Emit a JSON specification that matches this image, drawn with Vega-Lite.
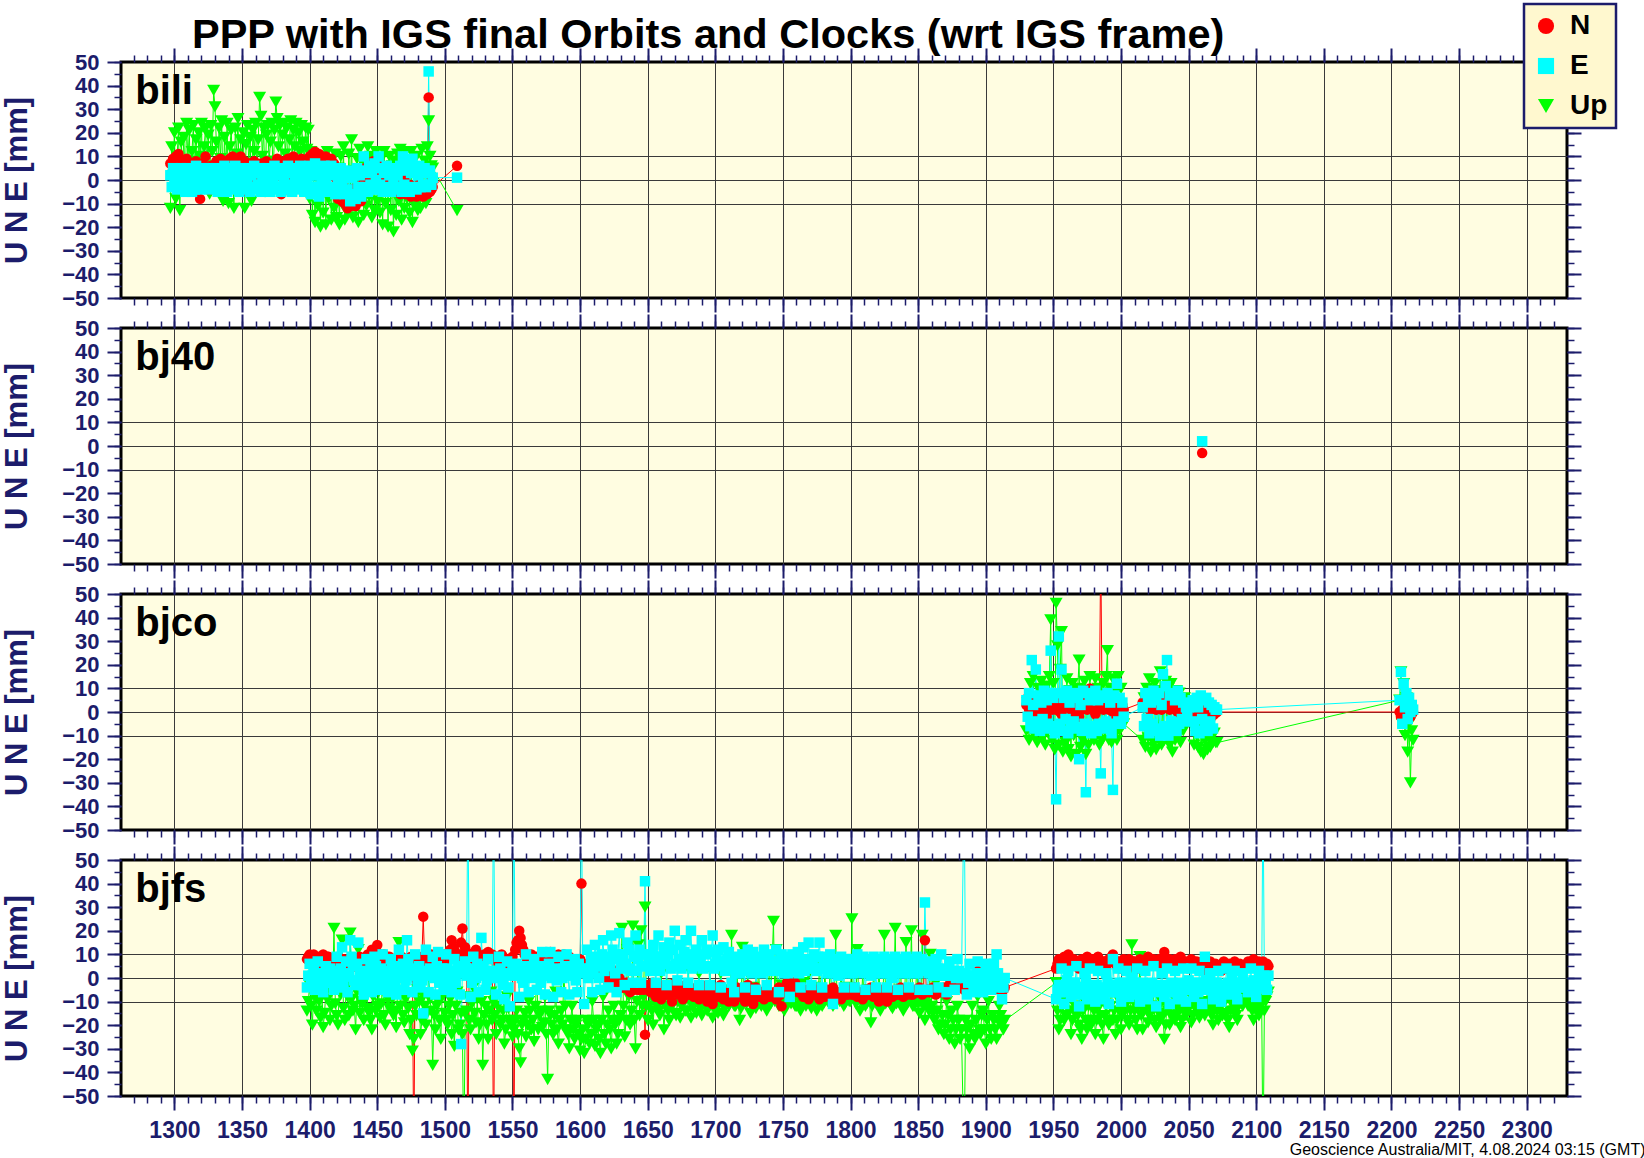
{
  "$schema": "https://vega.github.io/schema/vega-lite/v6.json",
  "padding": {"left": 0, "top": 2, "right": 0, "bottom": 0},
  "background": "white",
  "spacing": 30,
  "bounds": "flush",
  "resolve": {"scale": {"x": "independent", "y": "independent", "color": "shared", "shape": "shared", "stroke": "shared"}, "legend": {"color": "shared", "shape": "shared"}},
  "config": {
    "view": {"fill": "#fffde1", "stroke": "black", "strokeWidth": 3},
    "font": "Liberation Sans",
    "axis": {"domain": false, "tickColor": "#1c1c6b", "labelColor": "#1c1c6b", "labelFont": "Liberation Sans", "labelFontWeight": "bold", "labelOverlap": false, "labelFlush": false, "gridColor": "#3a3a3a", "gridWidth": 1},
    "legend": {"orient": "none", "legendX": 1403, "legendY": -58, "title": null, "fillColor": "#fff8cf", "strokeColor": "#1c1c6b", "strokeWidth": 2.5, "padding": 8, "labelFontSize": 28, "labelFont": "Liberation Sans", "labelFontWeight": "bold", "labelColor": "black", "symbolSize": 260, "symbolStrokeWidth": 0, "rowPadding": 12, "labelOffset": 10}
  },
  "datasets": {
    "bili": [
      {"t":1297,"N":7,"E":2,"Up":-12},{"t":1298,"N":3,"E":-3,"Up":14},{"t":1299,"N":9,"E":5,"Up":4},{"t":1300,"N":5,"E":-1,"Up":20},{"t":1301,"N":10,"E":4,"Up":-8},{"t":1302,"N":2,"E":-4,"Up":10},{"t":1303,"N":11,"E":1,"Up":22},{"t":1304,"N":6,"E":-3,"Up":-13},{"t":1305,"N":8,"E":5,"Up":16},{"t":1306,"N":0,"E":-2,"Up":5},
      {"t":1307,"N":6,"E":3,"Up":18},{"t":1308,"N":-3,"E":-5,"Up":-2},{"t":1309,"N":9,"E":5,"Up":24},{"t":1310,"N":3,"E":0,"Up":8},{"t":1311,"N":4,"E":-3,"Up":21},{"t":1312,"N":7,"E":4,"Up":-4},{"t":1313,"N":1,"E":-5,"Up":12},{"t":1314,"N":6,"E":2,"Up":23},{"t":1315,"N":2,"E":-4,"Up":3},{"t":1316,"N":8,"E":6,"Up":17},
      {"t":1317,"N":5,"E":-1,"Up":-5},{"t":1318,"N":-2,"E":4,"Up":20},{"t":1319,"N":-8,"E":-4,"Up":10},{"t":1320,"N":4,"E":2,"Up":24},{"t":1321,"N":7,"E":-2,"Up":-3},{"t":1322,"N":2,"E":5,"Up":14},{"t":1323,"N":10,"E":-3,"Up":22},{"t":1324,"N":4,"E":1,"Up":6},{"t":1325,"N":3,"E":5,"Up":19},{"t":1326,"N":-4,"E":-4,"Up":-6},
      {"t":1327,"N":6,"E":3,"Up":23},{"t":1328,"N":1,"E":-1,"Up":12},{"t":1329,"N":6,"E":4,"Up":38},{"t":1330,"N":2,"E":-3,"Up":31},{"t":1331,"N":8,"E":5,"Up":16},{"t":1332,"N":-3,"E":-5,"Up":2},{"t":1333,"N":5,"E":2,"Up":22},{"t":1334,"N":9,"E":-2,"Up":9},{"t":1335,"N":-2,"E":4,"Up":25},{"t":1336,"N":3,"E":-4,"Up":-9},
      {"t":1337,"N":8,"E":6,"Up":18},{"t":1338,"N":2,"E":0,"Up":4},{"t":1339,"N":4,"E":-5,"Up":24},{"t":1340,"N":7,"E":3,"Up":-10},{"t":1341,"N":9,"E":-2,"Up":14},{"t":1342,"N":1,"E":5,"Up":21},{"t":1343,"N":10,"E":-4,"Up":6},{"t":1344,"N":5,"E":2,"Up":-12},{"t":1345,"N":7,"E":6,"Up":22},{"t":1346,"N":3,"E":-3,"Up":11},
      {"t":1347,"N":9,"E":1,"Up":26},{"t":1348,"N":-1,"E":-5,"Up":-4},{"t":1349,"N":10,"E":5,"Up":17},{"t":1350,"N":6,"E":-2,"Up":3},{"t":1351,"N":5,"E":3,"Up":20},{"t":1352,"N":8,"E":-4,"Up":-12},{"t":1353,"N":2,"E":4,"Up":15},{"t":1354,"N":-5,"E":-1,"Up":23},{"t":1355,"N":4,"E":5,"Up":7},{"t":1356,"N":7,"E":-5,"Up":18},
      {"t":1357,"N":3,"E":2,"Up":-9},{"t":1358,"N":6,"E":-3,"Up":21},{"t":1359,"N":8,"E":6,"Up":12},{"t":1360,"N":1,"E":-4,"Up":24},{"t":1361,"N":6,"E":3,"Up":2},{"t":1362,"N":4,"E":-2,"Up":17},{"t":1363,"N":1,"E":5,"Up":35},{"t":1364,"N":7,"E":-5,"Up":27},{"t":1365,"N":5,"E":1,"Up":10},{"t":1366,"N":-2,"E":4,"Up":22},
      {"t":1367,"N":3,"E":-3,"Up":-5},{"t":1368,"N":8,"E":5,"Up":19},{"t":1369,"N":4,"E":-1,"Up":23},{"t":1370,"N":0,"E":3,"Up":8},{"t":1371,"N":2,"E":-5,"Up":16},{"t":1372,"N":6,"E":4,"Up":24},{"t":1373,"N":3,"E":-2,"Up":1},{"t":1374,"N":7,"E":6,"Up":21},{"t":1375,"N":3,"E":-4,"Up":33},{"t":1376,"N":9,"E":2,"Up":26},
      {"t":1377,"N":7,"E":-3,"Up":14},{"t":1378,"N":2,"E":5,"Up":23},{"t":1379,"N":-6,"E":-5,"Up":6},{"t":1380,"N":5,"E":3,"Up":19},{"t":1381,"N":8,"E":-1,"Up":24},{"t":1382,"N":1,"E":4,"Up":11},{"t":1383,"N":5,"E":-4,"Up":22},{"t":1384,"N":9,"E":6,"Up":3},{"t":1385,"N":4,"E":-2,"Up":17},{"t":1386,"N":7,"E":3,"Up":25},
      {"t":1387,"N":4,"E":-5,"Up":9},{"t":1388,"N":10,"E":5,"Up":21},{"t":1389,"N":6,"E":0,"Up":14},{"t":1390,"N":3,"E":-3,"Up":24},{"t":1391,"N":8,"E":4,"Up":5},{"t":1392,"N":6,"E":-4,"Up":20},{"t":1393,"N":2,"E":6,"Up":12},{"t":1394,"N":9,"E":-1,"Up":23},{"t":1395,"N":5,"E":3,"Up":16},{"t":1396,"N":7,"E":-5,"Up":8},
      {"t":1397,"N":4,"E":5,"Up":22},{"t":1398,"N":8,"E":-2,"Up":13},{"t":1399,"N":6,"E":2,"Up":21},
      {"t":1400,"N":10,"E":6,"Up":-8},{"t":1401,"N":4,"E":-6,"Up":12},{"t":1402,"N":11,"E":2,"Up":-15},{"t":1403,"N":7,"E":-3,"Up":4},{"t":1404,"N":12,"E":7,"Up":-18},{"t":1405,"N":5,"E":-5,"Up":9},{"t":1406,"N":9,"E":3,"Up":-11},{"t":1407,"N":11,"E":-7,"Up":2},{"t":1408,"N":6,"E":5,"Up":-20},{"t":1409,"N":9,"E":0,"Up":10},
      {"t":1410,"N":3,"E":-4,"Up":-14},{"t":1411,"N":8,"E":6,"Up":6},{"t":1412,"N":10,"E":-2,"Up":-19},{"t":1413,"N":5,"E":4,"Up":12},{"t":1414,"N":7,"E":-5,"Up":-8},{"t":1415,"N":2,"E":2,"Up":8},{"t":1416,"N":9,"E":6,"Up":-17},{"t":1417,"N":4,"E":-3,"Up":3},{"t":1418,"N":7,"E":3,"Up":-12},{"t":1419,"N":1,"E":-6,"Up":11},
      {"t":1420,"N":-4,"E":4,"Up":-16},{"t":1421,"N":-8,"E":0,"Up":5},{"t":1422,"N":1,"E":-5,"Up":-19},{"t":1423,"N":-6,"E":5,"Up":10},{"t":1424,"N":-9,"E":-2,"Up":-10},{"t":1425,"N":-3,"E":3,"Up":14},{"t":1426,"N":-10,"E":-6,"Up":-17},{"t":1427,"N":-5,"E":2,"Up":2},{"t":1428,"N":-12,"E":-4,"Up":-14},{"t":1429,"N":-7,"E":4,"Up":11},
      {"t":1430,"N":-11,"E":-9,"Up":-8},{"t":1431,"N":-4,"E":1,"Up":17},{"t":1432,"N":-9,"E":-6,"Up":-16},{"t":1433,"N":-6,"E":3,"Up":4},{"t":1434,"N":-11,"E":-8,"Up":-12},{"t":1435,"N":-3,"E":5,"Up":9},{"t":1436,"N":-8,"E":-3,"Up":-18},{"t":1437,"N":-5,"E":2,"Up":13},{"t":1438,"N":-9,"E":-7,"Up":-6},{"t":1439,"N":-2,"E":4,"Up":8},
      {"t":1440,"N":1,"E":10,"Up":-15},{"t":1441,"N":5,"E":-3,"Up":6},{"t":1442,"N":-2,"E":3,"Up":-11},{"t":1443,"N":4,"E":-5,"Up":14},{"t":1444,"N":1,"E":6,"Up":-7},{"t":1445,"N":7,"E":-2,"Up":10},{"t":1446,"N":3,"E":4,"Up":-16},{"t":1447,"N":8,"E":-4,"Up":3},{"t":1448,"N":2,"E":7,"Up":-13},{"t":1449,"N":6,"E":0,"Up":12},
      {"t":1450,"N":8,"E":-4,"Up":-9},{"t":1451,"N":4,"E":10,"Up":5},{"t":1452,"N":7,"E":-2,"Up":-14},{"t":1453,"N":3,"E":5,"Up":9},{"t":1454,"N":6,"E":-5,"Up":-19},{"t":1455,"N":2,"E":3,"Up":12},{"t":1456,"N":5,"E":-3,"Up":-10},{"t":1457,"N":1,"E":6,"Up":4},{"t":1458,"N":4,"E":-4,"Up":-20},{"t":1459,"N":-1,"E":2,"Up":10},
      {"t":1460,"N":2,"E":-5,"Up":-13},{"t":1461,"N":-3,"E":4,"Up":6},{"t":1462,"N":1,"E":-2,"Up":-22},{"t":1463,"N":-4,"E":5,"Up":8},{"t":1464,"N":-1,"E":-4,"Up":-15},{"t":1465,"N":-5,"E":2,"Up":11},{"t":1466,"N":0,"E":-3,"Up":-9},{"t":1467,"N":-6,"E":6,"Up":13},{"t":1468,"N":-2,"E":-5,"Up":-17},{"t":1469,"N":-4,"E":10,"Up":3},
      {"t":1470,"N":1,"E":-2,"Up":-12},{"t":1471,"N":-6,"E":4,"Up":12},{"t":1472,"N":-3,"E":-4,"Up":-8},{"t":1473,"N":-5,"E":6,"Up":7},{"t":1474,"N":-2,"E":-5,"Up":-14},{"t":1475,"N":-7,"E":3,"Up":12},{"t":1476,"N":-4,"E":9,"Up":-18},{"t":1477,"N":-6,"E":-3,"Up":5},{"t":1478,"N":-3,"E":5,"Up":-11},{"t":1479,"N":-7,"E":-4,"Up":10},
      {"t":1480,"N":-5,"E":2,"Up":-13},{"t":1481,"N":-2,"E":6,"Up":4},{"t":1482,"N":-6,"E":-3,"Up":-12},{"t":1483,"N":-4,"E":4,"Up":13},{"t":1484,"N":-7,"E":-2,"Up":-6},{"t":1485,"N":-5,"E":5,"Up":8},{"t":1486,"N":-3,"E":-3,"Up":-10},{"t":1487,"N":-6,"E":3,"Up":14},{"t":1488,"N":35,"E":46,"Up":25},{"t":1489,"N":-5,"E":4,"Up":10},
      {"t":1490,"N":-4,"E":-2,"Up":6},{"t":1491,"N":-3,"E":1,"Up":5},{"t":1509,"N":6,"E":1,"Up":-13}
    ],
    "bj40": [{"t":2060,"N":-3,"E":2}],
    "bjco": [
      {"t":1930,"N":3,"E":5,"Up":-8},{"t":1931,"N":6,"E":-2,"Up":4},{"t":1932,"N":1,"E":8,"Up":-12},{"t":1933,"N":4,"E":-6,"Up":12},{"t":1934,"N":2,"E":22,"Up":-5},{"t":1935,"N":5,"E":3,"Up":15},{"t":1936,"N":-1,"E":-7,"Up":-10},{"t":1937,"N":4,"E":18,"Up":6},{"t":1938,"N":2,"E":-4,"Up":-13},{"t":1939,"N":6,"E":7,"Up":10},
      {"t":1940,"N":0,"E":-8,"Up":-6},{"t":1941,"N":4,"E":4,"Up":13},{"t":1942,"N":1,"E":-3,"Up":-11},{"t":1943,"N":5,"E":9,"Up":8},{"t":1944,"N":3,"E":-7,"Up":-14},{"t":1945,"N":-2,"E":5,"Up":11},{"t":1946,"N":4,"E":-5,"Up":-8},{"t":1947,"N":2,"E":8,"Up":15},{"t":1948,"N":4,"E":26,"Up":39},{"t":1949,"N":1,"E":-6,"Up":-12},
      {"t":1950,"N":3,"E":6,"Up":12},{"t":1951,"N":5,"E":-9,"Up":-16},{"t":1952,"N":1,"E":-37,"Up":46},{"t":1953,"N":2,"E":8,"Up":28},{"t":1954,"N":5,"E":32,"Up":-14},{"t":1955,"N":0,"E":-5,"Up":18},{"t":1956,"N":-1,"E":18,"Up":34},{"t":1957,"N":3,"E":-8,"Up":-17},{"t":1958,"N":2,"E":6,"Up":6},{"t":1959,"N":6,"E":-3,"Up":-13},
      {"t":1960,"N":2,"E":9,"Up":14},{"t":1961,"N":-3,"E":-9,"Up":-16},{"t":1962,"N":4,"E":4,"Up":9},{"t":1963,"N":1,"E":-6,"Up":-19},{"t":1964,"N":4,"E":7,"Up":12},{"t":1965,"N":0,"E":-4,"Up":-10},{"t":1966,"N":5,"E":8,"Up":5},{"t":1967,"N":2,"E":-7,"Up":-18},{"t":1968,"N":5,"E":6,"Up":10},{"t":1969,"N":-2,"E":-20,"Up":22},
      {"t":1970,"N":3,"E":3,"Up":-15},{"t":1971,"N":1,"E":-8,"Up":7},{"t":1972,"N":6,"E":9,"Up":-12},{"t":1973,"N":2,"E":-5,"Up":13},{"t":1974,"N":6,"E":-34,"Up":-18},{"t":1975,"N":1,"E":8,"Up":9},{"t":1976,"N":3,"E":-7,"Up":-14},{"t":1977,"N":10,"E":5,"Up":15},{"t":1978,"N":2,"E":-9,"Up":-10},{"t":1979,"N":4,"E":7,"Up":6},
      {"t":1980,"N":1,"E":-6,"Up":-12},{"t":1981,"N":-1,"E":9,"Up":14},{"t":1982,"N":4,"E":-8,"Up":-9},{"t":1983,"N":2,"E":5,"Up":10},{"t":1984,"N":4,"E":-5,"Up":-14},{"t":1985,"N":70,"E":-26,"Up":8},{"t":1986,"N":3,"E":7,"Up":-12},{"t":1987,"N":1,"E":-7,"Up":12},{"t":1988,"N":2,"E":6,"Up":-8},{"t":1989,"N":5,"E":-4,"Up":15},
      {"t":1990,"N":3,"E":8,"Up":26},{"t":1991,"N":1,"E":-6,"Up":-12},{"t":1992,"N":4,"E":4,"Up":10},{"t":1993,"N":2,"E":-9,"Up":-13},{"t":1994,"N":3,"E":-33,"Up":14},{"t":1995,"N":-1,"E":7,"Up":-10},{"t":1996,"N":2,"E":-5,"Up":8},{"t":1997,"N":4,"E":12,"Up":-12},{"t":1998,"N":2,"E":-4,"Up":15},{"t":1999,"N":5,"E":6,"Up":-8},
      {"t":2000,"N":1,"E":-5,"Up":10},{"t":2001,"N":3,"E":4,"Up":-6},{"t":2002,"N":1,"E":-2,"Up":-5},
      {"t":2016,"N":4,"E":2,"Up":-12},{"t":2017,"N":2,"E":-6,"Up":6},{"t":2018,"N":6,"E":8,"Up":-15},{"t":2019,"N":3,"E":-3,"Up":10},{"t":2020,"N":8,"E":6,"Up":-11},{"t":2021,"N":1,"E":-9,"Up":14},{"t":2022,"N":3,"E":4,"Up":-17},{"t":2023,"N":5,"E":-5,"Up":5},{"t":2024,"N":2,"E":9,"Up":-13},{"t":2025,"N":4,"E":-7,"Up":12},
      {"t":2026,"N":1,"E":5,"Up":-16},{"t":2027,"N":4,"E":-8,"Up":9},{"t":2028,"N":2,"E":8,"Up":-12},{"t":2029,"N":5,"E":-10,"Up":17},{"t":2030,"N":1,"E":3,"Up":-14},{"t":2031,"N":3,"E":16,"Up":7},{"t":2032,"N":6,"E":-6,"Up":-12},{"t":2033,"N":2,"E":11,"Up":13},{"t":2034,"N":3,"E":22,"Up":-8},{"t":2035,"N":5,"E":-10,"Up":10},
      {"t":2036,"N":1,"E":7,"Up":-14},{"t":2037,"N":4,"E":-4,"Up":12},{"t":2038,"N":2,"E":8,"Up":-17},{"t":2039,"N":4,"E":-7,"Up":6},{"t":2040,"N":1,"E":5,"Up":-12},{"t":2041,"N":3,"E":-8,"Up":9},{"t":2042,"N":0,"E":9,"Up":-10},{"t":2043,"N":3,"E":-5,"Up":8},{"t":2044,"N":1,"E":6,"Up":-13},{"t":2045,"N":2,"E":-3,"Up":5},
      {"t":2046,"N":0,"E":4,"Up":-8},{"t":2047,"N":2,"E":-4,"Up":6},{"t":2048,"N":1,"E":2,"Up":-5},{"t":2049,"N":0,"E":-2,"Up":3},{"t":2050,"N":1,"E":2,"Up":-3},
      {"t":2053,"N":-2,"E":5,"Up":-6},{"t":2054,"N":0,"E":-4,"Up":-14},{"t":2055,"N":1,"E":-8,"Up":4},{"t":2056,"N":-2,"E":6,"Up":-10},{"t":2057,"N":-3,"E":2,"Up":-15},{"t":2058,"N":0,"E":-9,"Up":-4},{"t":2059,"N":1,"E":7,"Up":-17},{"t":2060,"N":-2,"E":-3,"Up":-8},{"t":2061,"N":-1,"E":5,"Up":-18},{"t":2062,"N":0,"E":-6,"Up":-12},
      {"t":2063,"N":1,"E":6,"Up":2},{"t":2064,"N":-2,"E":-8,"Up":-16},{"t":2065,"N":-1,"E":4,"Up":-11},{"t":2066,"N":0,"E":-4,"Up":-15},{"t":2067,"N":-2,"E":3,"Up":-10},{"t":2068,"N":0,"E":-7,"Up":-13},{"t":2069,"N":-1,"E":2,"Up":-9},{"t":2070,"N":0,"E":1,"Up":-13},{"t":2071,"N":0,"E":1,"Up":-13},
      {"t":2206,"N":0,"E":5,"Up":5},{"t":2207,"N":-2,"E":17,"Up":17},{"t":2208,"N":1,"E":-5,"Up":-5},{"t":2209,"N":-1,"E":12,"Up":12},{"t":2210,"N":0,"E":2,"Up":-10},{"t":2211,"N":-3,"E":8,"Up":6},{"t":2212,"N":-1,"E":-3,"Up":-17},{"t":2213,"N":0,"E":6,"Up":-5},{"t":2214,"N":-2,"E":0,"Up":-30},{"t":2215,"N":-1,"E":3,"Up":-8},{"t":2216,"N":0,"E":1,"Up":-12}
    ],
    "bjfs": [
      {"t":1398,"N":8,"E":-4,"Up":-14},{"t":1400,"N":10,"E":6,"Up":-3},{"t":1402,"N":7,"E":1,"Up":-20},{"t":1404,"N":9,"E":-5,"Up":-8},{"t":1406,"N":6,"E":7,"Up":2},{"t":1408,"N":8,"E":0,"Up":-17},{"t":1410,"N":10,"E":-6,"Up":-21},{"t":1412,"N":7,"E":5,"Up":-6},{"t":1414,"N":9,"E":-2,"Up":4},{"t":1416,"N":6,"E":3,"Up":-12},
      {"t":1418,"N":4,"E":-5,"Up":21},{"t":1420,"N":8,"E":9,"Up":-16},{"t":1422,"N":5,"E":-4,"Up":-2},{"t":1424,"N":7,"E":13,"Up":16},{"t":1426,"N":3,"E":2,"Up":-18},{"t":1428,"N":6,"E":-6,"Up":-8},{"t":1430,"N":4,"E":16,"Up":19},{"t":1432,"N":8,"E":5,"Up":-14},{"t":1434,"N":5,"E":-3,"Up":-22},{"t":1436,"N":7,"E":15,"Up":12},
      {"t":1438,"N":4,"E":0,"Up":-10},{"t":1440,"N":7,"E":-7,"Up":-18},{"t":1442,"N":9,"E":8,"Up":-3},{"t":1444,"N":6,"E":-2,"Up":-15},{"t":1446,"N":12,"E":-6,"Up":-22},{"t":1448,"N":8,"E":9,"Up":4},{"t":1450,"N":14,"E":2,"Up":-12},{"t":1452,"N":10,"E":-5,"Up":-17},{"t":1454,"N":7,"E":10,"Up":-2},{"t":1456,"N":9,"E":-1,"Up":-20},
      {"t":1458,"N":6,"E":-6,"Up":-9},{"t":1460,"N":8,"E":8,"Up":3},{"t":1462,"N":5,"E":1,"Up":-16},{"t":1464,"N":8,"E":-7,"Up":-21},{"t":1466,"N":6,"E":12,"Up":15},{"t":1468,"N":9,"E":3,"Up":-6},{"t":1470,"N":7,"E":-5,"Up":-19},{"t":1472,"N":4,"E":16,"Up":5},{"t":1474,"N":8,"E":4,"Up":-24},{"t":1476,"N":7,"E":-6,"Up":-31},
      {"t":1477,"N":-80,"E":3,"Up":-26},{"t":1478,"N":6,"E":10,"Up":-12},{"t":1480,"N":9,"E":-2,"Up":-5},{"t":1482,"N":6,"E":-4,"Up":-24},{"t":1484,"N":26,"E":-15,"Up":-8},{"t":1486,"N":9,"E":12,"Up":-20},{"t":1488,"N":7,"E":-6,"Up":2},{"t":1490,"N":10,"E":3,"Up":-14},{"t":1491,"N":8,"E":9,"Up":-37},{"t":1493,"N":10,"E":-7,"Up":-22},
      {"t":1495,"N":6,"E":11,"Up":-10},{"t":1497,"N":8,"E":1,"Up":-26},{"t":1499,"N":9,"E":-5,"Up":0},{"t":1501,"N":7,"E":10,"Up":-18},{"t":1503,"N":11,"E":-2,"Up":-12},{"t":1505,"N":16,"E":-6,"Up":-24},{"t":1507,"N":12,"E":8,"Up":-29},{"t":1509,"N":8,"E":2,"Up":-6},{"t":1511,"N":10,"E":-7,"Up":-20},{"t":1512,"N":15,"E":-28,"Up":-15},
      {"t":1513,"N":21,"E":5,"Up":-24},{"t":1514,"N":10,"E":3,"Up":-80},{"t":1515,"N":13,"E":7,"Up":-15},{"t":1517,"N":-80,"E":80,"Up":-8},{"t":1519,"N":10,"E":-8,"Up":-22},{"t":1521,"N":8,"E":9,"Up":-4},{"t":1523,"N":12,"E":0,"Up":-19},{"t":1525,"N":9,"E":-6,"Up":-26},{"t":1527,"N":7,"E":17,"Up":-10},{"t":1528,"N":8,"E":5,"Up":-37},
      {"t":1530,"N":9,"E":-5,"Up":-12},{"t":1532,"N":11,"E":8,"Up":-26},{"t":1534,"N":8,"E":0,"Up":-6},{"t":1536,"N":-80,"E":80,"Up":-10},{"t":1538,"N":8,"E":-7,"Up":-24},{"t":1540,"N":6,"E":9,"Up":3},{"t":1542,"N":10,"E":1,"Up":-18},{"t":1544,"N":8,"E":-9,"Up":-28},{"t":1546,"N":7,"E":7,"Up":-8},{"t":1548,"N":4,"E":-12,"Up":-18},
      {"t":1550,"N":9,"E":4,"Up":-25},{"t":1551,"N":-80,"E":80,"Up":-22},{"t":1553,"N":15,"E":6,"Up":-14},{"t":1555,"N":20,"E":-8,"Up":-30},{"t":1556,"N":17,"E":5,"Up":-36},{"t":1558,"N":12,"E":-2,"Up":-18},{"t":1560,"N":9,"E":10,"Up":-25},{"t":1562,"N":6,"E":-6,"Up":-10},{"t":1564,"N":10,"E":3,"Up":-22},{"t":1566,"N":7,"E":8,"Up":-27},
      {"t":1568,"N":9,"E":-5,"Up":2},{"t":1570,"N":7,"E":1,"Up":-16},{"t":1572,"N":9,"E":11,"Up":-21},{"t":1574,"N":6,"E":-7,"Up":-8},{"t":1576,"N":5,"E":3,"Up":-43},{"t":1578,"N":11,"E":11,"Up":-16},{"t":1580,"N":8,"E":-8,"Up":-24},{"t":1582,"N":6,"E":2,"Up":-6},{"t":1584,"N":10,"E":9,"Up":-28},{"t":1586,"N":7,"E":-6,"Up":-14},
      {"t":1588,"N":10,"E":4,"Up":3},{"t":1590,"N":7,"E":10,"Up":-22},{"t":1592,"N":9,"E":-7,"Up":-30},{"t":1594,"N":5,"E":1,"Up":-12},{"t":1596,"N":8,"E":8,"Up":-26},{"t":1598,"N":6,"E":-6,"Up":-18},{"t":1600,"N":8,"E":3,"Up":-31},{"t":1601,"N":40,"E":80,"Up":-26},{"t":1603,"N":4,"E":-11,"Up":-32},{"t":1605,"N":6,"E":12,"Up":-18},
      {"t":1607,"N":2,"E":4,"Up":-28},{"t":1609,"N":5,"E":-6,"Up":-10},{"t":1611,"N":8,"E":14,"Up":-29},{"t":1613,"N":3,"E":5,"Up":-20},{"t":1615,"N":6,"E":-5,"Up":-32},{"t":1617,"N":4,"E":16,"Up":-8},{"t":1619,"N":2,"E":6,"Up":-28},{"t":1621,"N":-2,"E":-4,"Up":-14},{"t":1623,"N":4,"E":18,"Up":-30},{"t":1625,"N":0,"E":8,"Up":-12},
      {"t":1627,"N":-3,"E":-6,"Up":-28},{"t":1629,"N":0,"E":19,"Up":-18},{"t":1631,"N":-4,"E":7,"Up":21},{"t":1633,"N":-3,"E":-3,"Up":-25},{"t":1635,"N":-2,"E":15,"Up":12},{"t":1637,"N":-6,"E":4,"Up":-20},{"t":1639,"N":-4,"E":-2,"Up":22},{"t":1641,"N":-3,"E":18,"Up":-30},{"t":1643,"N":-5,"E":8,"Up":14},{"t":1645,"N":-4,"E":-2,"Up":20},
      {"t":1648,"N":-24,"E":41,"Up":30},{"t":1650,"N":-3,"E":10,"Up":-18},{"t":1652,"N":-6,"E":3,"Up":-5},{"t":1654,"N":-2,"E":14,"Up":-20},{"t":1656,"N":-8,"E":-2,"Up":-8},{"t":1658,"N":-4,"E":18,"Up":-14},{"t":1660,"N":-9,"E":6,"Up":2},{"t":1662,"N":-3,"E":13,"Up":-22},{"t":1664,"N":-7,"E":-3,"Up":-6},{"t":1666,"N":-5,"E":15,"Up":-18},
      {"t":1668,"N":-10,"E":5,"Up":-3},{"t":1670,"N":-2,"E":20,"Up":-15},{"t":1672,"N":-6,"E":-1,"Up":-10},{"t":1674,"N":-4,"E":14,"Up":-17},{"t":1676,"N":-9,"E":6,"Up":-5},{"t":1678,"N":-3,"E":16,"Up":-14},{"t":1680,"N":-7,"E":-2,"Up":4},{"t":1682,"N":-5,"E":20,"Up":-17},{"t":1684,"N":-8,"E":7,"Up":-7},{"t":1686,"N":-4,"E":12,"Up":-15},
      {"t":1688,"N":-9,"E":-3,"Up":2},{"t":1690,"N":-3,"E":16,"Up":-16},{"t":1692,"N":-6,"E":5,"Up":-9},{"t":1694,"N":-10,"E":12,"Up":-14},{"t":1696,"N":-4,"E":-3,"Up":4},{"t":1698,"N":-11,"E":18,"Up":-17},{"t":1700,"N":-5,"E":6,"Up":-7},{"t":1702,"N":-8,"E":12,"Up":-15},{"t":1704,"N":-3,"E":-4,"Up":2},{"t":1706,"N":-9,"E":13,"Up":-16},
      {"t":1708,"N":-6,"E":4,"Up":-5},{"t":1710,"N":-10,"E":11,"Up":-12},{"t":1712,"N":-5,"E":-2,"Up":18},{"t":1714,"N":-10,"E":-6,"Up":-12},{"t":1716,"N":-4,"E":9,"Up":4},{"t":1718,"N":-8,"E":2,"Up":-18},{"t":1720,"N":-5,"E":10,"Up":13},{"t":1722,"N":-10,"E":-4,"Up":-10},{"t":1724,"N":-3,"E":12,"Up":2},{"t":1726,"N":-7,"E":4,"Up":-15},
      {"t":1728,"N":-11,"E":11,"Up":-4},{"t":1730,"N":-4,"E":-5,"Up":-13},{"t":1732,"N":-8,"E":9,"Up":5},{"t":1734,"N":-6,"E":2,"Up":-12},{"t":1736,"N":-9,"E":12,"Up":-8},{"t":1738,"N":-4,"E":-3,"Up":-14},{"t":1740,"N":-8,"E":10,"Up":6},{"t":1743,"N":-6,"E":4,"Up":24},{"t":1745,"N":-9,"E":12,"Up":12},{"t":1747,"N":-4,"E":-6,"Up":-12},
      {"t":1749,"N":-12,"E":10,"Up":-3},{"t":1751,"N":-5,"E":2,"Up":-14},{"t":1753,"N":-2,"E":9,"Up":0},{"t":1755,"N":-1,"E":-8,"Up":-10},{"t":1757,"N":-3,"E":10,"Up":4},{"t":1759,"N":-2,"E":3,"Up":-12},{"t":1761,"N":-6,"E":11,"Up":-5},{"t":1763,"N":-4,"E":-4,"Up":-14},{"t":1765,"N":-8,"E":13,"Up":-2},{"t":1767,"N":-5,"E":5,"Up":-12},
      {"t":1769,"N":-9,"E":15,"Up":2},{"t":1771,"N":-4,"E":-3,"Up":-13},{"t":1773,"N":-7,"E":10,"Up":-4},{"t":1775,"N":-5,"E":3,"Up":-14},{"t":1777,"N":-9,"E":15,"Up":6},{"t":1779,"N":-6,"E":-4,"Up":-12},{"t":1781,"N":-8,"E":9,"Up":3},{"t":1783,"N":-5,"E":2,"Up":-10},{"t":1785,"N":-7,"E":10,"Up":8},{"t":1787,"N":-4,"E":-11,"Up":-12},
      {"t":1789,"N":-8,"E":8,"Up":18},{"t":1791,"N":-6,"E":1,"Up":-9},{"t":1793,"N":-9,"E":9,"Up":3},{"t":1795,"N":-5,"E":-4,"Up":-12},{"t":1797,"N":-7,"E":8,"Up":-4},{"t":1799,"N":-5,"E":2,"Up":-10},{"t":1801,"N":-7,"E":8,"Up":25},{"t":1803,"N":-4,"E":-4,"Up":-8},{"t":1805,"N":-8,"E":10,"Up":12},{"t":1807,"N":-6,"E":3,"Up":-14},
      {"t":1809,"N":-9,"E":9,"Up":2},{"t":1811,"N":-5,"E":-5,"Up":-12},{"t":1813,"N":-7,"E":8,"Up":-5},{"t":1815,"N":-4,"E":1,"Up":-19},{"t":1817,"N":-8,"E":9,"Up":3},{"t":1819,"N":-6,"E":-4,"Up":-11},{"t":1821,"N":-10,"E":8,"Up":6},{"t":1823,"N":-5,"E":2,"Up":-12},{"t":1825,"N":-8,"E":9,"Up":18},{"t":1827,"N":-10,"E":-4,"Up":-9},
      {"t":1829,"N":-6,"E":8,"Up":4},{"t":1831,"N":-8,"E":0,"Up":-13},{"t":1833,"N":-5,"E":9,"Up":21},{"t":1835,"N":-7,"E":-5,"Up":-10},{"t":1837,"N":-4,"E":8,"Up":6},{"t":1839,"N":-8,"E":2,"Up":-14},{"t":1841,"N":-6,"E":9,"Up":15},{"t":1843,"N":-5,"E":-4,"Up":-8},{"t":1845,"N":-7,"E":8,"Up":20},{"t":1847,"N":-5,"E":2,"Up":-12},
      {"t":1849,"N":-6,"E":9,"Up":6},{"t":1851,"N":-4,"E":-5,"Up":-15},{"t":1853,"N":-7,"E":8,"Up":18},{"t":1855,"N":16,"E":32,"Up":-18},{"t":1857,"N":-5,"E":-5,"Up":-8},{"t":1859,"N":-6,"E":7,"Up":10},{"t":1861,"N":-4,"E":1,"Up":-15},{"t":1863,"N":-7,"E":8,"Up":-2},{"t":1865,"N":-5,"E":-4,"Up":-22},{"t":1867,"N":-6,"E":10,"Up":-6},
      {"t":1869,"N":-4,"E":2,"Up":-24},{"t":1871,"N":-7,"E":-6,"Up":-10},{"t":1873,"N":-3,"E":7,"Up":-26},{"t":1875,"N":-5,"E":1,"Up":-14},{"t":1877,"N":-2,"E":-5,"Up":-28},{"t":1879,"N":-4,"E":8,"Up":-12},{"t":1881,"N":-3,"E":1,"Up":-26},{"t":1884,"N":-5,"E":80,"Up":-80},{"t":1886,"N":-2,"E":-7,"Up":-22},{"t":1888,"N":-4,"E":6,"Up":-30},
      {"t":1890,"N":0,"E":-1,"Up":-12},{"t":1892,"N":-3,"E":-6,"Up":-26},{"t":1894,"N":3,"E":7,"Up":-8},{"t":1896,"N":-2,"E":0,"Up":-24},{"t":1898,"N":1,"E":-6,"Up":-14},{"t":1900,"N":-4,"E":6,"Up":-28},{"t":1902,"N":0,"E":1,"Up":-10},{"t":1904,"N":-2,"E":-5,"Up":-26},{"t":1906,"N":2,"E":6,"Up":-18},{"t":1908,"N":-3,"E":10,"Up":-26},
      {"t":1910,"N":-5,"E":-4,"Up":-12},{"t":1912,"N":-6,"E":-9,"Up":-20},{"t":1914,"N":-4,"E":0,"Up":-18},
      {"t":1952,"N":4,"E":-9,"Up":-2},{"t":1954,"N":8,"E":-3,"Up":-22},{"t":1956,"N":5,"E":4,"Up":-10},{"t":1958,"N":9,"E":-11,"Up":-18},{"t":1960,"N":6,"E":-1,"Up":8},{"t":1961,"N":10,"E":3,"Up":-8},{"t":1963,"N":6,"E":-8,"Up":-24},{"t":1965,"N":8,"E":-2,"Up":-14},{"t":1967,"N":7,"E":5,"Up":-4},{"t":1969,"N":4,"E":-12,"Up":-20},
      {"t":1971,"N":8,"E":-4,"Up":-26},{"t":1973,"N":5,"E":2,"Up":-10},{"t":1975,"N":9,"E":-9,"Up":-22},{"t":1977,"N":6,"E":4,"Up":-6},{"t":1979,"N":8,"E":-3,"Up":-18},{"t":1981,"N":5,"E":-10,"Up":-24},{"t":1983,"N":9,"E":3,"Up":-8},{"t":1985,"N":6,"E":-5,"Up":-16},{"t":1987,"N":7,"E":-9,"Up":-26},{"t":1989,"N":4,"E":2,"Up":-12},
      {"t":1991,"N":8,"E":-11,"Up":-20},{"t":1993,"N":9,"E":-3,"Up":-4},{"t":1994,"N":10,"E":8,"Up":-18},{"t":1996,"N":6,"E":-6,"Up":-24},{"t":1998,"N":7,"E":4,"Up":-9},{"t":2000,"N":4,"E":-10,"Up":-22},{"t":2002,"N":8,"E":-2,"Up":-14},{"t":2004,"N":6,"E":3,"Up":-5},{"t":2006,"N":8,"E":-8,"Up":-20},{"t":2008,"N":5,"E":0,"Up":14},
      {"t":2010,"N":7,"E":-7,"Up":-14},{"t":2012,"N":4,"E":4,"Up":-22},{"t":2014,"N":8,"E":-10,"Up":9},{"t":2016,"N":6,"E":-2,"Up":-22},{"t":2018,"N":5,"E":3,"Up":-8},{"t":2020,"N":9,"E":-9,"Up":-19},{"t":2022,"N":6,"E":-3,"Up":-12},{"t":2024,"N":8,"E":5,"Up":-6},{"t":2026,"N":6,"E":-12,"Up":-21},{"t":2028,"N":8,"E":-4,"Up":-15},
      {"t":2030,"N":4,"E":2,"Up":-10},{"t":2032,"N":11,"E":-8,"Up":-26},{"t":2034,"N":6,"E":4,"Up":-12},{"t":2036,"N":8,"E":-11,"Up":-20},{"t":2038,"N":5,"E":-2,"Up":-7},{"t":2040,"N":8,"E":3,"Up":-18},{"t":2042,"N":5,"E":-9,"Up":-12},{"t":2044,"N":9,"E":-3,"Up":-21},{"t":2046,"N":6,"E":4,"Up":-8},{"t":2048,"N":7,"E":-10,"Up":-16},
      {"t":2050,"N":5,"E":-1,"Up":-6},{"t":2052,"N":8,"E":4,"Up":-19},{"t":2054,"N":5,"E":-8,"Up":-12},{"t":2056,"N":7,"E":-2,"Up":-4},{"t":2058,"N":4,"E":3,"Up":-17},{"t":2060,"N":7,"E":-11,"Up":-10},{"t":2062,"N":6,"E":9,"Up":-16},{"t":2064,"N":3,"E":-4,"Up":-5},{"t":2066,"N":7,"E":2,"Up":-14},{"t":2068,"N":4,"E":-9,"Up":-20},
      {"t":2070,"N":6,"E":-2,"Up":-8},{"t":2072,"N":5,"E":3,"Up":-18},{"t":2074,"N":3,"E":-10,"Up":-12},{"t":2076,"N":7,"E":-3,"Up":-6},{"t":2078,"N":4,"E":4,"Up":-15},{"t":2080,"N":6,"E":-7,"Up":-21},{"t":2082,"N":5,"E":0,"Up":-10},{"t":2084,"N":7,"E":3,"Up":-14},{"t":2086,"N":4,"E":-9,"Up":-18},{"t":2088,"N":6,"E":-2,"Up":-8},
      {"t":2090,"N":4,"E":2,"Up":-12},{"t":2094,"N":7,"E":-6,"Up":-12},{"t":2096,"N":5,"E":4,"Up":-4},{"t":2098,"N":8,"E":-1,"Up":-18},{"t":2100,"N":6,"E":-8,"Up":-10},{"t":2102,"N":7,"E":3,"Up":-16},{"t":2104,"N":5,"E":-4,"Up":-9},{"t":2105,"N":7,"E":80,"Up":-80},{"t":2106,"N":4,"E":1,"Up":-14},{"t":2108,"N":6,"E":-5,"Up":-8},
      {"t":2109,"N":5,"E":1,"Up":-6},
      {"t":1399,"N":9,"E":1,"Up":-10},{"t":1401,"N":8,"E":-2,"Up":-12},{"t":1403,"N":10,"E":3,"Up":-6},{"t":1405,"N":7,"E":-1,"Up":-14},{"t":1407,"N":9,"E":2,"Up":-10},{"t":1409,"N":8,"E":-3,"Up":-4},{"t":1411,"N":7,"E":1,"Up":-15},{"t":1413,"N":9,"E":-2,"Up":-9},{"t":1415,"N":8,"E":4,"Up":-18},{"t":1417,"N":6,"E":0,"Up":-5},
      {"t":1419,"N":7,"E":2,"Up":-11},{"t":1421,"N":9,"E":-1,"Up":-20},{"t":1423,"N":6,"E":4,"Up":-7},{"t":1425,"N":8,"E":-2,"Up":-13},{"t":1427,"N":5,"E":7,"Up":-4},{"t":1429,"N":7,"E":1,"Up":-16},{"t":1431,"N":6,"E":9,"Up":-9},{"t":1433,"N":8,"E":-1,"Up":-12},{"t":1435,"N":6,"E":6,"Up":-6},{"t":1437,"N":9,"E":2,"Up":-15},
      {"t":1439,"N":6,"E":-3,"Up":-11},{"t":1441,"N":8,"E":3,"Up":-7},{"t":1443,"N":10,"E":0,"Up":-13},{"t":1445,"N":9,"E":4,"Up":-18},{"t":1447,"N":11,"E":-2,"Up":-8},{"t":1449,"N":12,"E":5,"Up":-14},{"t":1451,"N":9,"E":-1,"Up":-6},{"t":1453,"N":8,"E":4,"Up":-11},{"t":1455,"N":10,"E":0,"Up":-16},{"t":1457,"N":7,"E":3,"Up":-7},
      {"t":1459,"N":9,"E":-2,"Up":-13},{"t":1461,"N":6,"E":4,"Up":-9},{"t":1463,"N":7,"E":-3,"Up":-14},{"t":1465,"N":8,"E":5,"Up":-6},{"t":1467,"N":7,"E":0,"Up":-12},{"t":1469,"N":8,"E":6,"Up":-16},{"t":1471,"N":6,"E":-1,"Up":-9},{"t":1473,"N":7,"E":8,"Up":-13},{"t":1475,"N":9,"E":1,"Up":-18},{"t":1479,"N":8,"E":2,"Up":-16},
      {"t":1481,"N":7,"E":5,"Up":-10},{"t":1483,"N":9,"E":-1,"Up":-18},{"t":1485,"N":8,"E":3,"Up":-12},{"t":1487,"N":9,"E":1,"Up":-15},{"t":1489,"N":8,"E":4,"Up":-9},{"t":1492,"N":9,"E":0,"Up":-16},{"t":1494,"N":7,"E":5,"Up":-12},{"t":1496,"N":10,"E":-2,"Up":-18},{"t":1498,"N":8,"E":4,"Up":-8},{"t":1500,"N":10,"E":1,"Up":-15},
      {"t":1502,"N":9,"E":4,"Up":-20},{"t":1504,"N":12,"E":0,"Up":-9},{"t":1506,"N":13,"E":3,"Up":-16},{"t":1508,"N":10,"E":-2,"Up":-12},{"t":1510,"N":9,"E":4,"Up":-22},{"t":1516,"N":11,"E":1,"Up":-14},{"t":1518,"N":9,"E":4,"Up":-18},{"t":1520,"N":10,"E":-2,"Up":-11},{"t":1522,"N":11,"E":3,"Up":-15},{"t":1524,"N":9,"E":6,"Up":-9},
      {"t":1526,"N":8,"E":1,"Up":-20},{"t":1529,"N":10,"E":3,"Up":-16},{"t":1531,"N":8,"E":-1,"Up":-20},{"t":1533,"N":9,"E":3,"Up":-14},{"t":1535,"N":10,"E":1,"Up":-18},{"t":1537,"N":9,"E":3,"Up":-16},{"t":1539,"N":7,"E":0,"Up":-12},{"t":1541,"N":8,"E":4,"Up":-20},{"t":1543,"N":9,"E":-3,"Up":-14},{"t":1545,"N":8,"E":2,"Up":-22},
      {"t":1547,"N":6,"E":-4,"Up":-13},{"t":1549,"N":8,"E":1,"Up":-20},{"t":1552,"N":12,"E":1,"Up":-18},{"t":1554,"N":16,"E":2,"Up":-24},{"t":1557,"N":14,"E":0,"Up":-20},{"t":1559,"N":10,"E":4,"Up":-15},{"t":1561,"N":8,"E":1,"Up":-20},{"t":1563,"N":9,"E":5,"Up":-14},{"t":1565,"N":8,"E":0,"Up":-18},{"t":1567,"N":8,"E":3,"Up":-12},
      {"t":1569,"N":8,"E":4,"Up":-22},{"t":1571,"N":8,"E":-2,"Up":-14},{"t":1573,"N":7,"E":5,"Up":-19},{"t":1575,"N":8,"E":1,"Up":-24},{"t":1577,"N":9,"E":6,"Up":-14},{"t":1579,"N":9,"E":0,"Up":-20},{"t":1581,"N":7,"E":4,"Up":-16},{"t":1583,"N":8,"E":-1,"Up":-22},{"t":1585,"N":8,"E":3,"Up":-18},{"t":1587,"N":9,"E":0,"Up":-20},
      {"t":1589,"N":8,"E":5,"Up":-12},{"t":1591,"N":8,"E":2,"Up":-24},{"t":1593,"N":7,"E":3,"Up":-18},{"t":1595,"N":7,"E":4,"Up":-22},{"t":1597,"N":7,"E":-1,"Up":-20},{"t":1599,"N":7,"E":6,"Up":-24},{"t":1602,"N":6,"E":2,"Up":-22},{"t":1604,"N":5,"E":4,"Up":-26},{"t":1606,"N":4,"E":0,"Up":-20},{"t":1608,"N":4,"E":8,"Up":-24},
      {"t":1610,"N":6,"E":2,"Up":-18},{"t":1612,"N":5,"E":9,"Up":-22},{"t":1614,"N":4,"E":0,"Up":-26},{"t":1616,"N":5,"E":10,"Up":-18},{"t":1618,"N":3,"E":3,"Up":-24},{"t":1620,"N":0,"E":9,"Up":-20},{"t":1622,"N":1,"E":5,"Up":-22},{"t":1624,"N":2,"E":12,"Up":-18},{"t":1626,"N":-1,"E":2,"Up":-20},{"t":1628,"N":-2,"E":10,"Up":-24},
      {"t":1630,"N":-2,"E":4,"Up":-16},{"t":1632,"N":-4,"E":10,"Up":-12},{"t":1634,"N":-2,"E":6,"Up":-18},{"t":1636,"N":-5,"E":12,"Up":-8},{"t":1638,"N":-4,"E":3,"Up":-14},{"t":1640,"N":-5,"E":9,"Up":-18},{"t":1642,"N":-4,"E":3,"Up":-10},{"t":1644,"N":-5,"E":12,"Up":-16},{"t":1646,"N":-4,"E":5,"Up":-12},{"t":1647,"N":-5,"E":10,"Up":-8},
      {"t":1649,"N":-4,"E":5,"Up":-12},{"t":1651,"N":-5,"E":7,"Up":-12},{"t":1653,"N":-4,"E":10,"Up":-14},{"t":1655,"N":-5,"E":5,"Up":-10},{"t":1657,"N":-6,"E":9,"Up":-12},{"t":1659,"N":-5,"E":3,"Up":-16},{"t":1661,"N":-6,"E":9,"Up":-10},{"t":1663,"N":-5,"E":6,"Up":-12},{"t":1665,"N":-7,"E":10,"Up":-14},{"t":1667,"N":-6,"E":4,"Up":-9},
      {"t":1669,"N":-6,"E":12,"Up":-11},{"t":1671,"N":-5,"E":6,"Up":-16},{"t":1673,"N":-7,"E":8,"Up":-8},{"t":1675,"N":-6,"E":4,"Up":-12},{"t":1677,"N":-7,"E":11,"Up":-10},{"t":1679,"N":-6,"E":7,"Up":-14},{"t":1681,"N":-7,"E":10,"Up":-9},{"t":1683,"N":-6,"E":4,"Up":-12},{"t":1685,"N":-7,"E":9,"Up":-11},{"t":1687,"N":-6,"E":5,"Up":-10},
      {"t":1689,"N":-7,"E":9,"Up":-13},{"t":1691,"N":-6,"E":4,"Up":-8},{"t":1693,"N":-7,"E":10,"Up":-12},{"t":1695,"N":-6,"E":5,"Up":-11},{"t":1697,"N":-8,"E":11,"Up":-10},{"t":1699,"N":-7,"E":4,"Up":-13},{"t":1701,"N":-6,"E":9,"Up":-9},{"t":1703,"N":-7,"E":5,"Up":-11},{"t":1705,"N":-6,"E":7,"Up":-10},{"t":1707,"N":-7,"E":3,"Up":-13},
      {"t":1709,"N":-8,"E":8,"Up":-8},{"t":1711,"N":-7,"E":4,"Up":-11},{"t":1713,"N":-8,"E":6,"Up":-9},{"t":1715,"N":-7,"E":2,"Up":-12},{"t":1717,"N":-6,"E":7,"Up":-10},{"t":1719,"N":-7,"E":4,"Up":-13},{"t":1721,"N":-8,"E":6,"Up":-9},{"t":1723,"N":-6,"E":3,"Up":-11},{"t":1725,"N":-7,"E":8,"Up":-8},{"t":1727,"N":-8,"E":2,"Up":-12},
      {"t":1729,"N":-7,"E":7,"Up":-10},{"t":1731,"N":-6,"E":4,"Up":-9},{"t":1733,"N":-7,"E":8,"Up":-11},{"t":1735,"N":-8,"E":3,"Up":-10},{"t":1737,"N":-7,"E":7,"Up":-12},{"t":1739,"N":-6,"E":3,"Up":-9},{"t":1741,"N":-7,"E":7,"Up":-11},{"t":1744,"N":-7,"E":6,"Up":-10},{"t":1746,"N":-8,"E":3,"Up":-8},{"t":1748,"N":-7,"E":7,"Up":-11},
      {"t":1750,"N":-6,"E":3,"Up":-9},{"t":1752,"N":-5,"E":6,"Up":-12},{"t":1754,"N":-4,"E":2,"Up":-8},{"t":1756,"N":-3,"E":6,"Up":-11},{"t":1758,"N":-4,"E":3,"Up":-9},{"t":1760,"N":-5,"E":7,"Up":-12},{"t":1762,"N":-5,"E":2,"Up":-8},{"t":1764,"N":-6,"E":7,"Up":-11},{"t":1766,"N":-6,"E":3,"Up":-9},{"t":1768,"N":-7,"E":8,"Up":-10},
      {"t":1770,"N":-6,"E":4,"Up":-8},{"t":1772,"N":-7,"E":8,"Up":-11},{"t":1774,"N":-6,"E":4,"Up":-9},{"t":1776,"N":-7,"E":9,"Up":-10},{"t":1778,"N":-7,"E":4,"Up":-8},{"t":1780,"N":-7,"E":6,"Up":-11},{"t":1782,"N":-6,"E":4,"Up":-9},{"t":1784,"N":-7,"E":6,"Up":-10},{"t":1786,"N":-6,"E":2,"Up":-8},{"t":1788,"N":-7,"E":5,"Up":-11},
      {"t":1790,"N":-7,"E":3,"Up":-9},{"t":1792,"N":-7,"E":6,"Up":-10},{"t":1794,"N":-7,"E":2,"Up":-8},{"t":1796,"N":-6,"E":5,"Up":-11},{"t":1798,"N":-7,"E":3,"Up":-9},{"t":1800,"N":-6,"E":5,"Up":-10},{"t":1802,"N":-7,"E":2,"Up":-8},{"t":1804,"N":-6,"E":5,"Up":-11},{"t":1806,"N":-7,"E":3,"Up":-9},{"t":1808,"N":-7,"E":6,"Up":-10},
      {"t":1810,"N":-7,"E":2,"Up":-8},{"t":1812,"N":-6,"E":5,"Up":-11},{"t":1814,"N":-7,"E":3,"Up":-9},{"t":1816,"N":-6,"E":5,"Up":-12},{"t":1818,"N":-7,"E":2,"Up":-8},{"t":1820,"N":-7,"E":5,"Up":-11},{"t":1822,"N":-7,"E":3,"Up":-14},{"t":1824,"N":-6,"E":5,"Up":-9},{"t":1826,"N":-8,"E":2,"Up":-11},{"t":1828,"N":-7,"E":5,"Up":-9},
      {"t":1830,"N":-7,"E":3,"Up":-12},{"t":1832,"N":-6,"E":5,"Up":-8},{"t":1834,"N":-7,"E":2,"Up":-11},{"t":1836,"N":-6,"E":5,"Up":-9},{"t":1838,"N":-7,"E":3,"Up":-12},{"t":1840,"N":-6,"E":5,"Up":-9},{"t":1842,"N":-7,"E":2,"Up":-11},{"t":1844,"N":-6,"E":5,"Up":-9},{"t":1846,"N":-7,"E":3,"Up":-12},{"t":1848,"N":-6,"E":5,"Up":-8},
      {"t":1850,"N":-6,"E":2,"Up":-11},{"t":1852,"N":-6,"E":5,"Up":-9},{"t":1854,"N":-6,"E":3,"Up":-12},{"t":1856,"N":-6,"E":4,"Up":-11},{"t":1858,"N":-6,"E":2,"Up":-14},{"t":1860,"N":-5,"E":4,"Up":-12},{"t":1862,"N":-6,"E":2,"Up":-18},{"t":1864,"N":-5,"E":4,"Up":-14},{"t":1866,"N":-6,"E":1,"Up":-20},{"t":1868,"N":-5,"E":4,"Up":-16},
      {"t":1870,"N":-5,"E":1,"Up":-20},{"t":1872,"N":-5,"E":3,"Up":-16},{"t":1874,"N":-4,"E":1,"Up":-22},{"t":1876,"N":-4,"E":3,"Up":-18},{"t":1878,"N":-4,"E":0,"Up":-22},{"t":1880,"N":-4,"E":3,"Up":-18},{"t":1882,"N":-3,"E":0,"Up":-22},{"t":1885,"N":-3,"E":2,"Up":-18},{"t":1887,"N":-3,"E":-2,"Up":-26},{"t":1889,"N":-2,"E":1,"Up":-20},
      {"t":1891,"N":-2,"E":-3,"Up":-24},{"t":1893,"N":-1,"E":2,"Up":-18},{"t":1895,"N":-1,"E":-2,"Up":-22},{"t":1897,"N":0,"E":2,"Up":-16},{"t":1899,"N":-1,"E":-2,"Up":-22},{"t":1901,"N":-1,"E":2,"Up":-18},{"t":1903,"N":-1,"E":-2,"Up":-22},{"t":1905,"N":-2,"E":2,"Up":-16},{"t":1907,"N":-3,"E":-1,"Up":-22},{"t":1909,"N":-4,"E":2,"Up":-18},
      {"t":1911,"N":-5,"E":-3,"Up":-16},{"t":1913,"N":-5,"E":-4,"Up":-22},
      {"t":1953,"N":6,"E":-5,"Up":-14},{"t":1955,"N":7,"E":-6,"Up":-18},{"t":1957,"N":6,"E":-3,"Up":-12},{"t":1959,"N":7,"E":-6,"Up":-16},{"t":1962,"N":8,"E":-4,"Up":-14},{"t":1964,"N":7,"E":-6,"Up":-18},{"t":1966,"N":6,"E":-2,"Up":-12},{"t":1968,"N":7,"E":-7,"Up":-16},{"t":1970,"N":6,"E":-4,"Up":-22},{"t":1972,"N":7,"E":-6,"Up":-14},
      {"t":1974,"N":7,"E":-2,"Up":-18},{"t":1976,"N":6,"E":-6,"Up":-12},{"t":1978,"N":7,"E":-4,"Up":-20},{"t":1980,"N":7,"E":-7,"Up":-14},{"t":1982,"N":6,"E":-3,"Up":-18},{"t":1984,"N":7,"E":-6,"Up":-12},{"t":1986,"N":6,"E":-4,"Up":-20},{"t":1988,"N":7,"E":-5,"Up":-16},{"t":1990,"N":6,"E":-2,"Up":-18},{"t":1992,"N":8,"E":-6,"Up":-12},
      {"t":1995,"N":7,"E":-3,"Up":-14},{"t":1997,"N":7,"E":-6,"Up":-18},{"t":1999,"N":6,"E":-2,"Up":-14},{"t":2001,"N":7,"E":-6,"Up":-16},{"t":2003,"N":7,"E":-4,"Up":-12},{"t":2005,"N":7,"E":-6,"Up":-18},{"t":2007,"N":6,"E":-3,"Up":-14},{"t":2009,"N":7,"E":-5,"Up":-10},{"t":2011,"N":6,"E":-2,"Up":-18},{"t":2013,"N":7,"E":-6,"Up":-12},
      {"t":2015,"N":7,"E":-4,"Up":-16},{"t":2017,"N":6,"E":-6,"Up":-14},{"t":2019,"N":7,"E":-3,"Up":-12},{"t":2021,"N":7,"E":-6,"Up":-16},{"t":2023,"N":7,"E":-2,"Up":-14},{"t":2025,"N":7,"E":-6,"Up":-18},{"t":2027,"N":7,"E":-3,"Up":-12},{"t":2029,"N":6,"E":-5,"Up":-18},{"t":2031,"N":8,"E":-3,"Up":-16},{"t":2033,"N":8,"E":-5,"Up":-20},
      {"t":2035,"N":7,"E":-3,"Up":-14},{"t":2037,"N":7,"E":-6,"Up":-16},{"t":2039,"N":6,"E":-4,"Up":-12},{"t":2041,"N":7,"E":-6,"Up":-16},{"t":2043,"N":7,"E":-2,"Up":-14},{"t":2045,"N":7,"E":-6,"Up":-18},{"t":2047,"N":6,"E":-3,"Up":-12},{"t":2049,"N":6,"E":-5,"Up":-14},{"t":2051,"N":6,"E":-3,"Up":-12},{"t":2053,"N":7,"E":-5,"Up":-16},
      {"t":2055,"N":6,"E":-2,"Up":-10},{"t":2057,"N":6,"E":-6,"Up":-14},{"t":2059,"N":6,"E":-3,"Up":-12},{"t":2061,"N":6,"E":-5,"Up":-14},{"t":2063,"N":5,"E":-1,"Up":-10},{"t":2065,"N":5,"E":-5,"Up":-12},{"t":2067,"N":6,"E":-3,"Up":-16},{"t":2069,"N":5,"E":-5,"Up":-12},{"t":2071,"N":5,"E":-2,"Up":-14},{"t":2073,"N":5,"E":-6,"Up":-12},
      {"t":2075,"N":5,"E":-3,"Up":-16},{"t":2077,"N":6,"E":-5,"Up":-10},{"t":2079,"N":5,"E":-2,"Up":-18},{"t":2081,"N":5,"E":-5,"Up":-14},{"t":2083,"N":6,"E":-3,"Up":-12},{"t":2085,"N":5,"E":-5,"Up":-16},{"t":2087,"N":5,"E":-2,"Up":-12},{"t":2089,"N":5,"E":-4,"Up":-10},{"t":2091,"N":5,"E":-2,"Up":-8},{"t":2093,"N":6,"E":-4,"Up":-10},
      {"t":2095,"N":6,"E":-2,"Up":-8},{"t":2097,"N":6,"E":-4,"Up":-14},{"t":2099,"N":7,"E":-2,"Up":-12},{"t":2101,"N":6,"E":-4,"Up":-14},{"t":2103,"N":6,"E":-1,"Up":-12},{"t":2107,"N":5,"E":-3,"Up":-10}
    ]
  },
  "vconcat": [
    {
      "width": 1446, "height": 236,
      "title": {"text": "PPP with IGS final Orbits and Clocks (wrt IGS frame)", "font": "Liberation Sans", "fontSize": 41.5, "fontWeight": "bold", "color": "black", "anchor": "start", "frame": "group", "dx": 71, "offset": -9},
      "resolve": {"axis": {"x": "independent", "y": "independent"}},
      "layer": [
        {"data": {"name": "bili"}, "transform": [{"fold": ["Up", "N", "E"], "as": ["comp", "v"]}, {"filter": "isValid(datum.v)"}],
         "mark": {"type": "line", "strokeWidth": 1, "clip": true},
         "encoding": {"x": {"field": "t", "type": "quantitative", "scale": {"domain": [1260.5, 2329.8], "nice": false, "zero": false}, "axis": null},
                      "y": {"field": "v", "type": "quantitative", "scale": {"domain": [-50, 50], "nice": false, "zero": false}, "axis": null},
                      "stroke": {"field": "comp", "type": "nominal", "scale": {"domain": ["Up", "N", "E"], "range": ["#00ff00", "#ff0000", "#00ffff"]}, "legend": null}}},
        {"data": {"name": "bili"}, "transform": [{"fold": ["Up"], "as": ["comp", "v"]}, {"filter": "isValid(datum.v)"}],
         "mark": {"type": "point", "filled": true, "opacity": 1, "strokeWidth": 0, "size": 170, "clip": true},
         "encoding": {"x": {"field": "t", "type": "quantitative", "scale": {"domain": [1260.5, 2329.8], "nice": false, "zero": false},
                            "axis": {"orient": "bottom", "values": [1300,1350,1400,1450,1500,1550,1600,1650,1700,1750,1800,1850,1900,1950,2000,2050,2100,2150,2200,2250,2300], "tickSize": 14, "tickWidth": 2, "labels": false, "grid": true, "title": null}},
                      "y": {"field": "v", "type": "quantitative", "scale": {"domain": [-50, 50], "nice": false, "zero": false},
                            "axis": {"orient": "left", "values": [-50,-40,-30,-20,-10,0,10,20,30,40,50], "tickSize": 14, "tickWidth": 2, "labelFontSize": 22, "labelPadding": 8, "grid": true, "gridOpacity": {"condition": {"test": "abs(datum.value) <= 10", "value": 1}, "value": 0}, "title": "U N E [mm]", "titleFontSize": 31, "titleFontWeight": "bold", "titleColor": "#1c1c6b", "titlePadding": 28}},
                      "color": {"field": "comp", "type": "nominal", "scale": {"domain": ["N", "E", "Up"], "range": ["#ff0000", "#00ffff", "#00ff00"]}},
                      "shape": {"field": "comp", "type": "nominal", "scale": {"domain": ["N", "E", "Up"], "range": ["circle", "square", "triangle-down"]}}}},
        {"data": {"name": "bili"}, "transform": [{"fold": ["N"], "as": ["comp", "v"]}, {"filter": "isValid(datum.v)"}],
         "mark": {"type": "point", "filled": true, "opacity": 1, "strokeWidth": 0, "size": 110, "clip": true},
         "encoding": {"x": {"field": "t", "type": "quantitative", "scale": {"domain": [1260.5, 2329.8], "nice": false, "zero": false}, "axis": null},
                      "y": {"field": "v", "type": "quantitative", "scale": {"domain": [-50, 50], "nice": false, "zero": false}, "axis": null},
                      "color": {"field": "comp", "type": "nominal", "scale": {"domain": ["N", "E", "Up"], "range": ["#ff0000", "#00ffff", "#00ff00"]}},
                      "shape": {"field": "comp", "type": "nominal", "scale": {"domain": ["N", "E", "Up"], "range": ["circle", "square", "triangle-down"]}}}},
        {"data": {"name": "bili"}, "transform": [{"fold": ["E"], "as": ["comp", "v"]}, {"filter": "isValid(datum.v)"}],
         "mark": {"type": "point", "filled": true, "opacity": 1, "strokeWidth": 0, "size": 110, "clip": true},
         "encoding": {"x": {"field": "t", "type": "quantitative", "scale": {"domain": [1260.5, 2329.8], "nice": false, "zero": false}, "axis": null},
                      "y": {"field": "v", "type": "quantitative", "scale": {"domain": [-50, 50], "nice": false, "zero": false}, "axis": null},
                      "color": {"field": "comp", "type": "nominal", "scale": {"domain": ["N", "E", "Up"], "range": ["#ff0000", "#00ffff", "#00ff00"]}},
                      "shape": {"field": "comp", "type": "nominal", "scale": {"domain": ["N", "E", "Up"], "range": ["circle", "square", "triangle-down"]}}}},
        {"data": {"values": [{"a": 0}]}, "mark": {"type": "point", "opacity": 0},
         "encoding": {"x": {"datum": 1300, "type": "quantitative", "scale": {"domain": [1260.5, 2329.8], "nice": false, "zero": false}, "axis": {"orient": "bottom", "tickCount": 107, "tickSize": 7, "tickWidth": 1.5, "labels": false, "grid": false, "title": null}},
                      "y": {"datum": 0, "type": "quantitative", "scale": {"domain": [-50, 50], "nice": false, "zero": false}, "axis": {"orient": "left", "tickCount": 20, "tickSize": 7, "tickWidth": 1.5, "labels": false, "grid": false, "title": null}}}},
        {"data": {"values": [{"a": 0}]}, "mark": {"type": "point", "opacity": 0},
         "encoding": {"x": {"datum": 1300, "type": "quantitative", "scale": {"domain": [1260.5, 2329.8], "nice": false, "zero": false}, "axis": {"orient": "top", "values": [1300,1350,1400,1450,1500,1550,1600,1650,1700,1750,1800,1850,1900,1950,2000,2050,2100,2150,2200,2250,2300], "tickSize": 14, "tickWidth": 2, "labels": false, "grid": false, "title": null}},
                      "y": {"datum": 0, "type": "quantitative", "scale": {"domain": [-50, 50], "nice": false, "zero": false}, "axis": {"orient": "right", "values": [-50,-40,-30,-20,-10,0,10,20,30,40,50], "tickSize": 14, "tickWidth": 2, "labels": false, "grid": false, "title": null}}}},
        {"data": {"values": [{"a": 0}]}, "mark": {"type": "point", "opacity": 0},
         "encoding": {"x": {"datum": 1300, "type": "quantitative", "scale": {"domain": [1260.5, 2329.8], "nice": false, "zero": false}, "axis": {"orient": "top", "tickCount": 107, "tickSize": 7, "tickWidth": 1.5, "labels": false, "grid": false, "title": null}},
                      "y": {"datum": 0, "type": "quantitative", "scale": {"domain": [-50, 50], "nice": false, "zero": false}, "axis": {"orient": "right", "tickCount": 20, "tickSize": 7, "tickWidth": 1.5, "labels": false, "grid": false, "title": null}}}},
        {"data": {"values": [{"lab": "bili"}]}, "mark": {"type": "text", "align": "left", "baseline": "alphabetic", "fontSize": 40, "fontWeight": "bold", "font": "Liberation Sans", "color": "black"},
         "encoding": {"x": {"datum": 1271, "type": "quantitative", "scale": {"domain": [1260.5, 2329.8], "nice": false, "zero": false}, "axis": null},
                      "y": {"datum": 32, "type": "quantitative", "scale": {"domain": [-50, 50], "nice": false, "zero": false}, "axis": null},
                      "text": {"field": "lab"}}}
      ]
    },
    {
      "width": 1446, "height": 236,
      "resolve": {"axis": {"x": "independent", "y": "independent"}},
      "layer": [
        {"data": {"name": "bj40"}, "transform": [{"fold": ["N"], "as": ["comp", "v"]}, {"filter": "isValid(datum.v)"}],
         "mark": {"type": "point", "filled": true, "opacity": 1, "strokeWidth": 0, "size": 110, "clip": true},
         "encoding": {"x": {"field": "t", "type": "quantitative", "scale": {"domain": [1260.5, 2329.8], "nice": false, "zero": false},
                            "axis": {"orient": "bottom", "values": [1300,1350,1400,1450,1500,1550,1600,1650,1700,1750,1800,1850,1900,1950,2000,2050,2100,2150,2200,2250,2300], "tickSize": 14, "tickWidth": 2, "labels": false, "grid": true, "title": null}},
                      "y": {"field": "v", "type": "quantitative", "scale": {"domain": [-50, 50], "nice": false, "zero": false},
                            "axis": {"orient": "left", "values": [-50,-40,-30,-20,-10,0,10,20,30,40,50], "tickSize": 14, "tickWidth": 2, "labelFontSize": 22, "labelPadding": 8, "grid": true, "gridOpacity": {"condition": {"test": "abs(datum.value) <= 10", "value": 1}, "value": 0}, "title": "U N E [mm]", "titleFontSize": 31, "titleFontWeight": "bold", "titleColor": "#1c1c6b", "titlePadding": 28}},
                      "color": {"field": "comp", "type": "nominal", "scale": {"domain": ["N", "E", "Up"], "range": ["#ff0000", "#00ffff", "#00ff00"]}},
                      "shape": {"field": "comp", "type": "nominal", "scale": {"domain": ["N", "E", "Up"], "range": ["circle", "square", "triangle-down"]}}}},
        {"data": {"name": "bj40"}, "transform": [{"fold": ["E"], "as": ["comp", "v"]}, {"filter": "isValid(datum.v)"}],
         "mark": {"type": "point", "filled": true, "opacity": 1, "strokeWidth": 0, "size": 110, "clip": true},
         "encoding": {"x": {"field": "t", "type": "quantitative", "scale": {"domain": [1260.5, 2329.8], "nice": false, "zero": false}, "axis": null},
                      "y": {"field": "v", "type": "quantitative", "scale": {"domain": [-50, 50], "nice": false, "zero": false}, "axis": null},
                      "color": {"field": "comp", "type": "nominal", "scale": {"domain": ["N", "E", "Up"], "range": ["#ff0000", "#00ffff", "#00ff00"]}},
                      "shape": {"field": "comp", "type": "nominal", "scale": {"domain": ["N", "E", "Up"], "range": ["circle", "square", "triangle-down"]}}}},
        {"data": {"values": [{"a": 0}]}, "mark": {"type": "point", "opacity": 0},
         "encoding": {"x": {"datum": 1300, "type": "quantitative", "scale": {"domain": [1260.5, 2329.8], "nice": false, "zero": false}, "axis": {"orient": "bottom", "tickCount": 107, "tickSize": 7, "tickWidth": 1.5, "labels": false, "grid": false, "title": null}},
                      "y": {"datum": 0, "type": "quantitative", "scale": {"domain": [-50, 50], "nice": false, "zero": false}, "axis": {"orient": "left", "tickCount": 20, "tickSize": 7, "tickWidth": 1.5, "labels": false, "grid": false, "title": null}}}},
        {"data": {"values": [{"a": 0}]}, "mark": {"type": "point", "opacity": 0},
         "encoding": {"x": {"datum": 1300, "type": "quantitative", "scale": {"domain": [1260.5, 2329.8], "nice": false, "zero": false}, "axis": {"orient": "top", "values": [1300,1350,1400,1450,1500,1550,1600,1650,1700,1750,1800,1850,1900,1950,2000,2050,2100,2150,2200,2250,2300], "tickSize": 14, "tickWidth": 2, "labels": false, "grid": false, "title": null}},
                      "y": {"datum": 0, "type": "quantitative", "scale": {"domain": [-50, 50], "nice": false, "zero": false}, "axis": {"orient": "right", "values": [-50,-40,-30,-20,-10,0,10,20,30,40,50], "tickSize": 14, "tickWidth": 2, "labels": false, "grid": false, "title": null}}}},
        {"data": {"values": [{"a": 0}]}, "mark": {"type": "point", "opacity": 0},
         "encoding": {"x": {"datum": 1300, "type": "quantitative", "scale": {"domain": [1260.5, 2329.8], "nice": false, "zero": false}, "axis": {"orient": "top", "tickCount": 107, "tickSize": 7, "tickWidth": 1.5, "labels": false, "grid": false, "title": null}},
                      "y": {"datum": 0, "type": "quantitative", "scale": {"domain": [-50, 50], "nice": false, "zero": false}, "axis": {"orient": "right", "tickCount": 20, "tickSize": 7, "tickWidth": 1.5, "labels": false, "grid": false, "title": null}}}},
        {"data": {"values": [{"lab": "bj40"}]}, "mark": {"type": "text", "align": "left", "baseline": "alphabetic", "fontSize": 40, "fontWeight": "bold", "font": "Liberation Sans", "color": "black"},
         "encoding": {"x": {"datum": 1271, "type": "quantitative", "scale": {"domain": [1260.5, 2329.8], "nice": false, "zero": false}, "axis": null},
                      "y": {"datum": 32, "type": "quantitative", "scale": {"domain": [-50, 50], "nice": false, "zero": false}, "axis": null},
                      "text": {"field": "lab"}}}
      ]
    },
    {
      "width": 1446, "height": 236,
      "resolve": {"axis": {"x": "independent", "y": "independent"}},
      "layer": [
        {"data": {"name": "bjco"}, "transform": [{"fold": ["Up", "N", "E"], "as": ["comp", "v"]}, {"filter": "isValid(datum.v)"}],
         "mark": {"type": "line", "strokeWidth": 1, "clip": true},
         "encoding": {"x": {"field": "t", "type": "quantitative", "scale": {"domain": [1260.5, 2329.8], "nice": false, "zero": false}, "axis": null},
                      "y": {"field": "v", "type": "quantitative", "scale": {"domain": [-50, 50], "nice": false, "zero": false}, "axis": null},
                      "stroke": {"field": "comp", "type": "nominal", "scale": {"domain": ["Up", "N", "E"], "range": ["#00ff00", "#ff0000", "#00ffff"]}, "legend": null}}},
        {"data": {"name": "bjco"}, "transform": [{"fold": ["Up"], "as": ["comp", "v"]}, {"filter": "isValid(datum.v)"}],
         "mark": {"type": "point", "filled": true, "opacity": 1, "strokeWidth": 0, "size": 170, "clip": true},
         "encoding": {"x": {"field": "t", "type": "quantitative", "scale": {"domain": [1260.5, 2329.8], "nice": false, "zero": false},
                            "axis": {"orient": "bottom", "values": [1300,1350,1400,1450,1500,1550,1600,1650,1700,1750,1800,1850,1900,1950,2000,2050,2100,2150,2200,2250,2300], "tickSize": 14, "tickWidth": 2, "labels": false, "grid": true, "title": null}},
                      "y": {"field": "v", "type": "quantitative", "scale": {"domain": [-50, 50], "nice": false, "zero": false},
                            "axis": {"orient": "left", "values": [-50,-40,-30,-20,-10,0,10,20,30,40,50], "tickSize": 14, "tickWidth": 2, "labelFontSize": 22, "labelPadding": 8, "grid": true, "gridOpacity": {"condition": {"test": "abs(datum.value) <= 10", "value": 1}, "value": 0}, "title": "U N E [mm]", "titleFontSize": 31, "titleFontWeight": "bold", "titleColor": "#1c1c6b", "titlePadding": 28}},
                      "color": {"field": "comp", "type": "nominal", "scale": {"domain": ["N", "E", "Up"], "range": ["#ff0000", "#00ffff", "#00ff00"]}},
                      "shape": {"field": "comp", "type": "nominal", "scale": {"domain": ["N", "E", "Up"], "range": ["circle", "square", "triangle-down"]}}}},
        {"data": {"name": "bjco"}, "transform": [{"fold": ["N"], "as": ["comp", "v"]}, {"filter": "isValid(datum.v)"}],
         "mark": {"type": "point", "filled": true, "opacity": 1, "strokeWidth": 0, "size": 110, "clip": true},
         "encoding": {"x": {"field": "t", "type": "quantitative", "scale": {"domain": [1260.5, 2329.8], "nice": false, "zero": false}, "axis": null},
                      "y": {"field": "v", "type": "quantitative", "scale": {"domain": [-50, 50], "nice": false, "zero": false}, "axis": null},
                      "color": {"field": "comp", "type": "nominal", "scale": {"domain": ["N", "E", "Up"], "range": ["#ff0000", "#00ffff", "#00ff00"]}},
                      "shape": {"field": "comp", "type": "nominal", "scale": {"domain": ["N", "E", "Up"], "range": ["circle", "square", "triangle-down"]}}}},
        {"data": {"name": "bjco"}, "transform": [{"fold": ["E"], "as": ["comp", "v"]}, {"filter": "isValid(datum.v)"}],
         "mark": {"type": "point", "filled": true, "opacity": 1, "strokeWidth": 0, "size": 110, "clip": true},
         "encoding": {"x": {"field": "t", "type": "quantitative", "scale": {"domain": [1260.5, 2329.8], "nice": false, "zero": false}, "axis": null},
                      "y": {"field": "v", "type": "quantitative", "scale": {"domain": [-50, 50], "nice": false, "zero": false}, "axis": null},
                      "color": {"field": "comp", "type": "nominal", "scale": {"domain": ["N", "E", "Up"], "range": ["#ff0000", "#00ffff", "#00ff00"]}},
                      "shape": {"field": "comp", "type": "nominal", "scale": {"domain": ["N", "E", "Up"], "range": ["circle", "square", "triangle-down"]}}}},
        {"data": {"values": [{"a": 0}]}, "mark": {"type": "point", "opacity": 0},
         "encoding": {"x": {"datum": 1300, "type": "quantitative", "scale": {"domain": [1260.5, 2329.8], "nice": false, "zero": false}, "axis": {"orient": "bottom", "tickCount": 107, "tickSize": 7, "tickWidth": 1.5, "labels": false, "grid": false, "title": null}},
                      "y": {"datum": 0, "type": "quantitative", "scale": {"domain": [-50, 50], "nice": false, "zero": false}, "axis": {"orient": "left", "tickCount": 20, "tickSize": 7, "tickWidth": 1.5, "labels": false, "grid": false, "title": null}}}},
        {"data": {"values": [{"a": 0}]}, "mark": {"type": "point", "opacity": 0},
         "encoding": {"x": {"datum": 1300, "type": "quantitative", "scale": {"domain": [1260.5, 2329.8], "nice": false, "zero": false}, "axis": {"orient": "top", "values": [1300,1350,1400,1450,1500,1550,1600,1650,1700,1750,1800,1850,1900,1950,2000,2050,2100,2150,2200,2250,2300], "tickSize": 14, "tickWidth": 2, "labels": false, "grid": false, "title": null}},
                      "y": {"datum": 0, "type": "quantitative", "scale": {"domain": [-50, 50], "nice": false, "zero": false}, "axis": {"orient": "right", "values": [-50,-40,-30,-20,-10,0,10,20,30,40,50], "tickSize": 14, "tickWidth": 2, "labels": false, "grid": false, "title": null}}}},
        {"data": {"values": [{"a": 0}]}, "mark": {"type": "point", "opacity": 0},
         "encoding": {"x": {"datum": 1300, "type": "quantitative", "scale": {"domain": [1260.5, 2329.8], "nice": false, "zero": false}, "axis": {"orient": "top", "tickCount": 107, "tickSize": 7, "tickWidth": 1.5, "labels": false, "grid": false, "title": null}},
                      "y": {"datum": 0, "type": "quantitative", "scale": {"domain": [-50, 50], "nice": false, "zero": false}, "axis": {"orient": "right", "tickCount": 20, "tickSize": 7, "tickWidth": 1.5, "labels": false, "grid": false, "title": null}}}},
        {"data": {"values": [{"lab": "bjco"}]}, "mark": {"type": "text", "align": "left", "baseline": "alphabetic", "fontSize": 40, "fontWeight": "bold", "font": "Liberation Sans", "color": "black"},
         "encoding": {"x": {"datum": 1271, "type": "quantitative", "scale": {"domain": [1260.5, 2329.8], "nice": false, "zero": false}, "axis": null},
                      "y": {"datum": 32, "type": "quantitative", "scale": {"domain": [-50, 50], "nice": false, "zero": false}, "axis": null},
                      "text": {"field": "lab"}}}
      ]
    },
    {
      "width": 1446, "height": 236,
      "resolve": {"axis": {"x": "independent", "y": "independent"}},
      "layer": [
        {"data": {"name": "bjfs"}, "transform": [{"fold": ["Up", "N", "E"], "as": ["comp", "v"]}, {"filter": "isValid(datum.v)"}],
         "mark": {"type": "line", "strokeWidth": 1, "clip": true},
         "encoding": {"x": {"field": "t", "type": "quantitative", "scale": {"domain": [1260.5, 2329.8], "nice": false, "zero": false}, "axis": null},
                      "y": {"field": "v", "type": "quantitative", "scale": {"domain": [-50, 50], "nice": false, "zero": false}, "axis": null},
                      "stroke": {"field": "comp", "type": "nominal", "scale": {"domain": ["Up", "N", "E"], "range": ["#00ff00", "#ff0000", "#00ffff"]}, "legend": null}}},
        {"data": {"name": "bjfs"}, "transform": [{"fold": ["Up"], "as": ["comp", "v"]}, {"filter": "isValid(datum.v)"}],
         "mark": {"type": "point", "filled": true, "opacity": 1, "strokeWidth": 0, "size": 170, "clip": true},
         "encoding": {"x": {"field": "t", "type": "quantitative", "scale": {"domain": [1260.5, 2329.8], "nice": false, "zero": false},
                            "axis": {"orient": "bottom", "values": [1300,1350,1400,1450,1500,1550,1600,1650,1700,1750,1800,1850,1900,1950,2000,2050,2100,2150,2200,2250,2300], "format": "d", "tickSize": 14, "tickWidth": 2, "labels": true, "labelFontSize": 23, "labelPadding": 9, "grid": true,
                                     "title": "Geoscience Australia/MIT, 4.08.2024 03:15 (GMT)", "titleFont": "Liberation Sans", "titleFontSize": 16, "titleFontWeight": "normal", "titleColor": "black", "titleX": 1524, "titleY": 58, "titleAlign": "right", "titleBaseline": "alphabetic", "titleAngle": 0}},
                      "y": {"field": "v", "type": "quantitative", "scale": {"domain": [-50, 50], "nice": false, "zero": false},
                            "axis": {"orient": "left", "values": [-50,-40,-30,-20,-10,0,10,20,30,40,50], "tickSize": 14, "tickWidth": 2, "labelFontSize": 22, "labelPadding": 8, "grid": true, "gridOpacity": {"condition": {"test": "abs(datum.value) <= 10", "value": 1}, "value": 0}, "title": "U N E [mm]", "titleFontSize": 31, "titleFontWeight": "bold", "titleColor": "#1c1c6b", "titlePadding": 28}},
                      "color": {"field": "comp", "type": "nominal", "scale": {"domain": ["N", "E", "Up"], "range": ["#ff0000", "#00ffff", "#00ff00"]}},
                      "shape": {"field": "comp", "type": "nominal", "scale": {"domain": ["N", "E", "Up"], "range": ["circle", "square", "triangle-down"]}}}},
        {"data": {"name": "bjfs"}, "transform": [{"fold": ["N"], "as": ["comp", "v"]}, {"filter": "isValid(datum.v)"}],
         "mark": {"type": "point", "filled": true, "opacity": 1, "strokeWidth": 0, "size": 110, "clip": true},
         "encoding": {"x": {"field": "t", "type": "quantitative", "scale": {"domain": [1260.5, 2329.8], "nice": false, "zero": false}, "axis": null},
                      "y": {"field": "v", "type": "quantitative", "scale": {"domain": [-50, 50], "nice": false, "zero": false}, "axis": null},
                      "color": {"field": "comp", "type": "nominal", "scale": {"domain": ["N", "E", "Up"], "range": ["#ff0000", "#00ffff", "#00ff00"]}},
                      "shape": {"field": "comp", "type": "nominal", "scale": {"domain": ["N", "E", "Up"], "range": ["circle", "square", "triangle-down"]}}}},
        {"data": {"name": "bjfs"}, "transform": [{"fold": ["E"], "as": ["comp", "v"]}, {"filter": "isValid(datum.v)"}],
         "mark": {"type": "point", "filled": true, "opacity": 1, "strokeWidth": 0, "size": 110, "clip": true},
         "encoding": {"x": {"field": "t", "type": "quantitative", "scale": {"domain": [1260.5, 2329.8], "nice": false, "zero": false}, "axis": null},
                      "y": {"field": "v", "type": "quantitative", "scale": {"domain": [-50, 50], "nice": false, "zero": false}, "axis": null},
                      "color": {"field": "comp", "type": "nominal", "scale": {"domain": ["N", "E", "Up"], "range": ["#ff0000", "#00ffff", "#00ff00"]}},
                      "shape": {"field": "comp", "type": "nominal", "scale": {"domain": ["N", "E", "Up"], "range": ["circle", "square", "triangle-down"]}}}},
        {"data": {"values": [{"a": 0}]}, "mark": {"type": "point", "opacity": 0},
         "encoding": {"x": {"datum": 1300, "type": "quantitative", "scale": {"domain": [1260.5, 2329.8], "nice": false, "zero": false}, "axis": {"orient": "bottom", "tickCount": 107, "tickSize": 7, "tickWidth": 1.5, "labels": false, "grid": false, "title": null}},
                      "y": {"datum": 0, "type": "quantitative", "scale": {"domain": [-50, 50], "nice": false, "zero": false}, "axis": {"orient": "left", "tickCount": 20, "tickSize": 7, "tickWidth": 1.5, "labels": false, "grid": false, "title": null}}}},
        {"data": {"values": [{"a": 0}]}, "mark": {"type": "point", "opacity": 0},
         "encoding": {"x": {"datum": 1300, "type": "quantitative", "scale": {"domain": [1260.5, 2329.8], "nice": false, "zero": false}, "axis": {"orient": "top", "values": [1300,1350,1400,1450,1500,1550,1600,1650,1700,1750,1800,1850,1900,1950,2000,2050,2100,2150,2200,2250,2300], "tickSize": 14, "tickWidth": 2, "labels": false, "grid": false, "title": null}},
                      "y": {"datum": 0, "type": "quantitative", "scale": {"domain": [-50, 50], "nice": false, "zero": false}, "axis": {"orient": "right", "values": [-50,-40,-30,-20,-10,0,10,20,30,40,50], "tickSize": 14, "tickWidth": 2, "labels": false, "grid": false, "title": null}}}},
        {"data": {"values": [{"a": 0}]}, "mark": {"type": "point", "opacity": 0},
         "encoding": {"x": {"datum": 1300, "type": "quantitative", "scale": {"domain": [1260.5, 2329.8], "nice": false, "zero": false}, "axis": {"orient": "top", "tickCount": 107, "tickSize": 7, "tickWidth": 1.5, "labels": false, "grid": false, "title": null}},
                      "y": {"datum": 0, "type": "quantitative", "scale": {"domain": [-50, 50], "nice": false, "zero": false}, "axis": {"orient": "right", "tickCount": 20, "tickSize": 7, "tickWidth": 1.5, "labels": false, "grid": false, "title": null}}}},
        {"data": {"values": [{"lab": "bjfs"}]}, "mark": {"type": "text", "align": "left", "baseline": "alphabetic", "fontSize": 40, "fontWeight": "bold", "font": "Liberation Sans", "color": "black"},
         "encoding": {"x": {"datum": 1271, "type": "quantitative", "scale": {"domain": [1260.5, 2329.8], "nice": false, "zero": false}, "axis": null},
                      "y": {"datum": 32, "type": "quantitative", "scale": {"domain": [-50, 50], "nice": false, "zero": false}, "axis": null},
                      "text": {"field": "lab"}}}
      ]
    }
  ]
}
